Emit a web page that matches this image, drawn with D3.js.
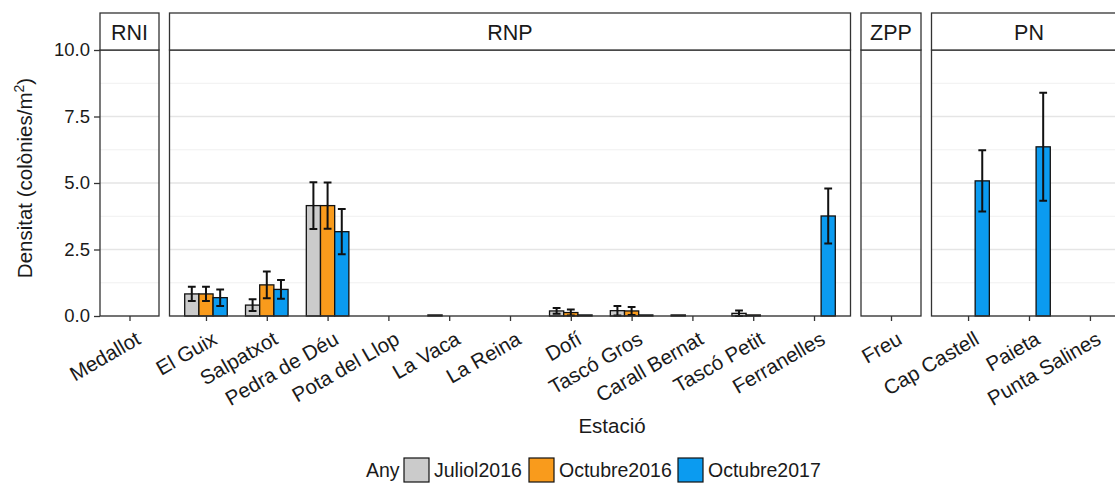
<!DOCTYPE html>
<html>
<head>
<meta charset="utf-8">
<script src="https://cdn.jsdelivr.net/npm/d3@7"></script>
<style>
  body { margin: 0; background: #fff; }
  text { font-family: "Liberation Sans", Arial, sans-serif; fill: #1a1a1a; }
</style>
</head>
<body>
<script>
// estacions i zona de cada una
let stations = ["Medallot", "El Guix", "Salpatxot", "Pedra de Déu", "Pota del Llop", "La Vaca", "La Reina",
  "Dofí", "Tascó Gros", "Carall Bernat", "Tascó Petit", "Ferranelles", "Freu", "Cap Castell", "Paieta", "Punta Salines"];
let zones = ["RNI", "RNP", "RNP", "RNP", "RNP", "RNP", "RNP", "RNP", "RNP", "RNP", "RNP", "RNP", "ZPP", "PN", "PN", "PN"];
let zoneNames = ["RNI", "RNP", "ZPP", "PN"];

// mitjanes i error estandard per campanya (null = sense dada)
let years = ["Juliol2016", "Octubre2016", "Octubre2017"];
let juliol2016 = [null, 0.83, 0.41, 4.15, null, 0.04, null, 0.19, 0.2, 0.04, 0.1, null, null, null, null, null];
let juliol2016Se = [null, 0.27, 0.22, 0.88, null, 0, null, 0.11, 0.18, 0, 0.11, null, null, null, null, null];
let octubre2016 = [null, 0.83, 1.17, 4.15, null, null, null, 0.13, 0.19, null, 0.04, null, null, null, null, null];
let octubre2016Se = [null, 0.27, 0.5, 0.87, null, null, null, 0.11, 0.15, null, 0, null, null, null, null, null];
let octubre2017 = [null, 0.69, 1.0, 3.17, null, null, null, 0.04, 0.04, null, null, 3.76, null, 5.08, 6.36, null];
let octubre2017Se = [null, 0.31, 0.35, 0.85, null, null, null, 0, 0, null, null, 1.03, null, 1.15, 2.03, null];

let yTicks = [0, 2.5, 5, 7.5, 10];
let colors = ["#cbcbcb", "#f99b1c", "#0b9bf0"];

let width = 1115, height = 486;
let panelTop = 50, panelBottom = 316, stripTop = 13;
// amplada de cada faceta (space = "free")
let panelW = {RNI: 59, RNP: 681, ZPP: 60, PN: 195};
let gap = 10.5;

let svg = d3.select("body").append("svg")
  .attr("width", width)
  .attr("height", height);

let y = d3.scaleLinear().domain([0, 10]).range([panelBottom, panelTop]);

// posicio de cada faceta
let panels = [];
let x0 = 100;
zoneNames.forEach(z => {
  let sts = stations.filter((s, i) => zones[i] == z);
  let sc = d3.scalePoint().domain(sts).range([x0, x0 + panelW[z]]).padding(0.6);
  panels.push({zone: z, x: x0, w: panelW[z], stations: sts, scale: sc});
  x0 += panelW[z] + gap;
});
let unit = panels[1].scale.step();
let barW = unit * 0.7 / 3;

let data = [];
let vals = [juliol2016, octubre2016, octubre2017];
let ses = [juliol2016Se, octubre2016Se, octubre2017Se];
stations.forEach((s, i) => {
  vals.forEach((v, k) => {
    if (v[i] != null) data.push({station: s, zone: zones[i], k: k, value: v[i], se: ses[k][i]});
  });
});

panels.forEach(p => {
  let g = svg.append("g");
  // graella
  d3.range(1.25, 10, 2.5).forEach(t => {
    g.append("line").attr("x1", p.x).attr("x2", p.x + p.w).attr("y1", y(t)).attr("y2", y(t))
      .style("stroke", "#f0f0f0").style("stroke-width", 1);
  });
  yTicks.forEach(t => {
    g.append("line").attr("x1", p.x).attr("x2", p.x + p.w).attr("y1", y(t)).attr("y2", y(t))
      .style("stroke", "#e5e5e5").style("stroke-width", 1.4);
  });

  let pd = data.filter(d => d.zone == p.zone);
  let bx = d => p.scale(d.station) + (d.k - 1) * barW;
  g.selectAll("rect.bar").data(pd).enter().append("rect")
    .attr("class", "bar")
    .attr("x", d => bx(d) - barW / 2)
    .attr("width", barW)
    .attr("y", d => y(d.value))
    .attr("height", d => y(0) - y(d.value))
    .style("fill", d => colors[d.k])
    .style("stroke", "#111")
    .style("stroke-width", 1.3);

  // barres d'error
  let ed = pd.filter(d => d.se > 0);
  let cap = barW * 0.55;
  g.selectAll("path.err").data(ed).enter().append("path")
    .attr("d", d => {
      let cx = bx(d), hi = y(d.value + d.se), lo = y(Math.max(0, d.value - d.se));
      return `M${cx - cap / 2},${hi}H${cx + cap / 2}M${cx},${hi}V${lo}M${cx - cap / 2},${lo}H${cx + cap / 2}`;
    })
    .style("fill", "none").style("stroke", "#111").style("stroke-width", 2);

  // vora del panell
  g.append("rect").attr("x", p.x).attr("y", panelTop).attr("width", p.w).attr("height", panelBottom - panelTop)
    .style("fill", "none").style("stroke", "#333").style("stroke-width", 1.3);
  // franja
  g.append("rect").attr("x", p.x).attr("y", stripTop).attr("width", p.w).attr("height", panelTop - stripTop)
    .style("fill", "#fff").style("stroke", "#333").style("stroke-width", 1.3);
  g.append("text").attr("x", p.x + p.w / 2).attr("y", 40)
    .attr("text-anchor", "middle").style("font-size", "21.5px").text(p.zone);

  // eix x
  let xaxis = d3.axisBottom(p.scale).tickSize(5).tickSizeOuter(0).tickPadding(0);
  let ax = svg.append("g").attr("transform", `translate(0,${panelBottom})`).call(xaxis);
  ax.select(".domain").remove();
  ax.selectAll(".tick line").style("stroke", "#333").style("stroke-width", 1.3);
  ax.selectAll(".tick text")
    .attr("y", 0).attr("dy", 0)
    .attr("text-anchor", "end")
    .attr("transform", "translate(12,27) rotate(-30)")
    .style("font-size", "20.5px")
    .style("fill", "#1a1a1a")
    .style("font-family", "Liberation Sans, Arial, sans-serif");
});

// eix y
let yaxis = d3.axisLeft(y).tickValues(yTicks).tickFormat(d3.format(".1f")).tickSize(6).tickPadding(4);
let ay = svg.append("g").attr("transform", "translate(100,0)").call(yaxis);
ay.select(".domain").remove();
ay.selectAll(".tick line").style("stroke", "#333").style("stroke-width", 1.3);
ay.selectAll(".tick text").style("font-size", "18.5px").style("fill", "#1a1a1a")
  .style("font-family", "Liberation Sans, Arial, sans-serif");

// titols
let yt = svg.append("text").attr("transform", "translate(32,178) rotate(-90)")
  .attr("text-anchor", "middle").style("font-size", "20.5px");
yt.append("tspan").text("Densitat (colònies/m");
yt.append("tspan").attr("dy", -8).style("font-size", "14px").text("2");
yt.append("tspan").attr("dy", 8).text(")");

svg.append("text").attr("x", 612).attr("y", 433).attr("text-anchor", "middle")
  .style("font-size", "20.5px").text("Estació");

// llegenda
let lg = svg.append("g");
lg.append("text").attr("x", 366).attr("y", 477).style("font-size", "19.5px").text("Any");
let lx = [404, 529, 678];
years.forEach((yr, k) => {
  lg.append("rect").attr("x", lx[k]).attr("y", 458).attr("width", 25).attr("height", 24)
    .style("fill", colors[k]).style("stroke", "#111").style("stroke-width", 1.2);
  lg.append("text").attr("x", lx[k] + 30).attr("y", 477).style("font-size", "19.5px").text(yr);
});
</script>
</body>
</html>
